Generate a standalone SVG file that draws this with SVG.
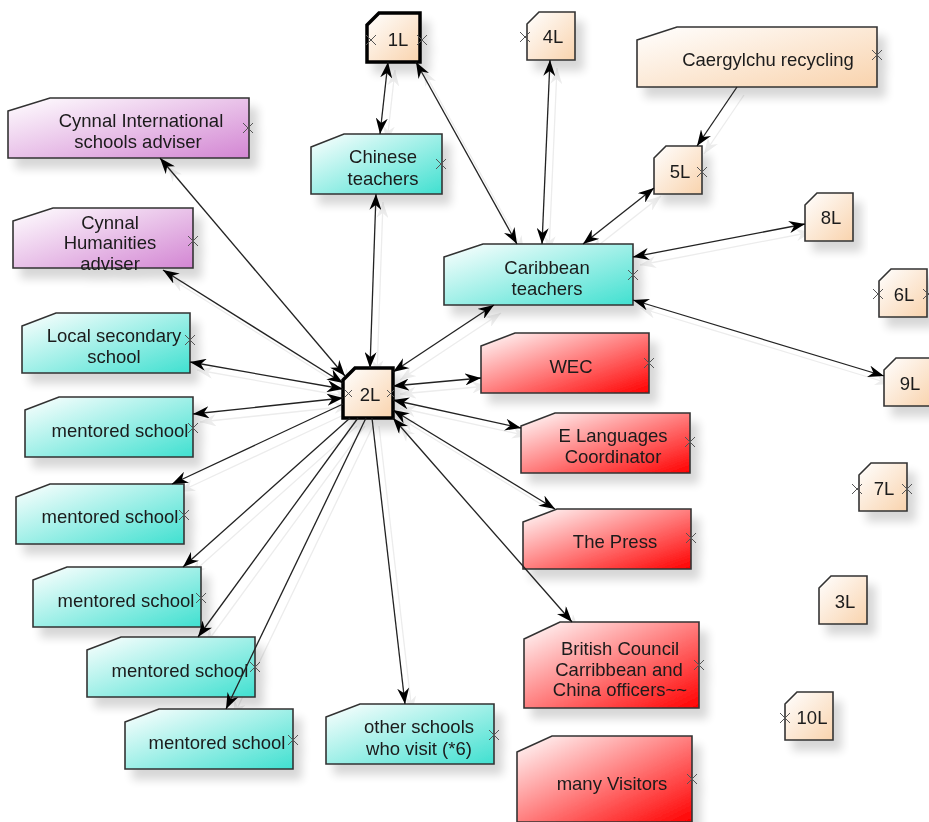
<svg xmlns="http://www.w3.org/2000/svg" width="929" height="822" viewBox="0 0 929 822">
  <defs>
    <linearGradient id="gPeach" x1="0" y1="0" x2="1" y2="1">
      <stop offset="0" stop-color="#ffffff"/>
      <stop offset="1" stop-color="#f9d3ad"/>
    </linearGradient>
    <linearGradient id="gTeal" x1="0" y1="0" x2="1" y2="1">
      <stop offset="0" stop-color="#ffffff"/>
      <stop offset="1" stop-color="#40e0d0"/>
    </linearGradient>
    <linearGradient id="gRed" x1="0" y1="0" x2="1" y2="1">
      <stop offset="0" stop-color="#ffffff"/>
      <stop offset="1" stop-color="#ff0000"/>
    </linearGradient>
    <linearGradient id="gPurple" x1="0" y1="0" x2="1" y2="1">
      <stop offset="0" stop-color="#ffffff"/>
      <stop offset="1" stop-color="#d386d3"/>
    </linearGradient>
    <filter id="shadow" x="-20%" y="-20%" width="150%" height="160%">
      <feGaussianBlur in="SourceAlpha" stdDeviation="5"/>
      <feOffset dx="8" dy="10" result="b"/>
      <feComponentTransfer><feFuncA type="linear" slope="0.16"/></feComponentTransfer>
      <feMerge><feMergeNode/><feMergeNode in="SourceGraphic"/></feMerge>
    </filter>
    <marker id="arr" viewBox="0 0 16 12" refX="16" refY="6" markerWidth="16" markerHeight="12" markerUnits="userSpaceOnUse" orient="auto-start-reverse">
      <path d="M0,0 L16,6 L0,12 L5,6 Z" fill="#000"/>
    </marker>
    <marker id="arrG" viewBox="0 0 16 12" refX="16" refY="6" markerWidth="16" markerHeight="12" markerUnits="userSpaceOnUse" orient="auto-start-reverse">
      <path d="M0,0 L16,6 L0,12 L5,6 Z" fill="#ececec"/>
    </marker>
  </defs>
  <style>
    .box { stroke: #333; stroke-width: 1.6; }
    .thick { stroke: #000; stroke-width: 3.5; }
    .peach { fill: url(#gPeach); }
    .teal { fill: url(#gTeal); }
    .red { fill: url(#gRed); }
    .purple { fill: url(#gPurple); }
    text { font-family: "Liberation Sans", Arial, sans-serif; font-size: 18.5px; fill: #1a1a1a; text-anchor: middle; }
    .x { stroke: #555; stroke-width: 1; fill: none; }
    .edge { stroke: #222; stroke-width: 1.3; fill: none; }
    .ghost { stroke: #ececec; stroke-width: 1.3; fill: none; }
  </style>

  <!-- faint echoes of the links -->
  <g id="link-echoes" transform="translate(7,8)">
    <line class="ghost" x1="388" y1="62" x2="380" y2="134" marker-start="url(#arrG)" marker-end="url(#arrG)"/>
    <line class="ghost" x1="416" y1="62" x2="517" y2="244" marker-start="url(#arrG)" marker-end="url(#arrG)"/>
    <line class="ghost" x1="550" y1="60" x2="542" y2="244" marker-start="url(#arrG)" marker-end="url(#arrG)"/>
    <line class="ghost" x1="737" y1="87" x2="697" y2="146" marker-end="url(#arrG)"/>
    <line class="ghost" x1="654" y1="188" x2="583" y2="244" marker-start="url(#arrG)" marker-end="url(#arrG)"/>
    <line class="ghost" x1="805" y1="224" x2="633" y2="257" marker-start="url(#arrG)" marker-end="url(#arrG)"/>
    <line class="ghost" x1="884" y1="376" x2="633" y2="300" marker-start="url(#arrG)" marker-end="url(#arrG)"/>
    <line class="ghost" x1="376" y1="194" x2="370" y2="368" marker-start="url(#arrG)" marker-end="url(#arrG)"/>
    <line class="ghost" x1="494" y1="305" x2="393" y2="372" marker-start="url(#arrG)" marker-end="url(#arrG)"/>
    <line class="ghost" x1="160" y1="158" x2="345" y2="376" marker-start="url(#arrG)" marker-end="url(#arrG)"/>
    <line class="ghost" x1="163" y1="270" x2="343" y2="383" marker-start="url(#arrG)" marker-end="url(#arrG)"/>
    <line class="ghost" x1="190" y1="362" x2="343" y2="389" marker-start="url(#arrG)" marker-end="url(#arrG)"/>
    <line class="ghost" x1="193" y1="414" x2="343" y2="398" marker-start="url(#arrG)" marker-end="url(#arrG)"/>
    <line class="ghost" x1="343" y1="404" x2="172" y2="484" marker-end="url(#arrG)"/>
    <line class="ghost" x1="350" y1="418" x2="183" y2="567" marker-end="url(#arrG)"/>
    <line class="ghost" x1="358" y1="418" x2="198" y2="637" marker-end="url(#arrG)"/>
    <line class="ghost" x1="366" y1="418" x2="226" y2="709" marker-end="url(#arrG)"/>
    <line class="ghost" x1="372" y1="418" x2="405" y2="704" marker-end="url(#arrG)"/>
    <line class="ghost" x1="481" y1="378" x2="393" y2="386" marker-start="url(#arrG)" marker-end="url(#arrG)"/>
    <line class="ghost" x1="393" y1="400" x2="521" y2="428" marker-start="url(#arrG)" marker-end="url(#arrG)"/>
    <line class="ghost" x1="393" y1="410" x2="555" y2="509" marker-start="url(#arrG)" marker-end="url(#arrG)"/>
    <line class="ghost" x1="393" y1="418" x2="572" y2="622" marker-start="url(#arrG)" marker-end="url(#arrG)"/>
  </g>

  <!-- nodes -->
  <g id="n1L" filter="url(#shadow)">
    <path class="thick peach" d="M367,25 L379,13 L420,13 L420,62 L367,62 Z"/>
    <text x="398" y="46">1L</text>
    <path class="x" d="M366,35 l10,10 M376,35 l-10,10 M417,35 l10,10 M427,35 l-10,10"/>
  </g>
  <g id="n4L" filter="url(#shadow)">
    <path class="box peach" d="M527,24 L539,12 L575,12 L575,60 L527,60 Z"/>
    <text x="553" y="43">4L</text>
    <path class="x" d="M520,32 l10,10 M530,32 l-10,10"/>
  </g>
  <g id="nCaergylchu" filter="url(#shadow)">
    <path class="box peach" d="M637,40 L677,27 L877,27 L877,87 L637,87 Z"/>
    <text x="768" y="66">Caergylchu recycling</text>
    <path class="x" d="M872,50 l10,10 M882,50 l-10,10"/>
  </g>
  <g id="nCynnalIntl" filter="url(#shadow)">
    <path class="box purple" d="M8,111 L50,98 L249,98 L249,158 L8,158 Z"/>
    <text x="141" y="127">Cynnal International</text>
    <text x="138" y="148">schools adviser</text>
    <path class="x" d="M243,123 l10,10 M253,123 l-10,10"/>
  </g>
  <g id="nChinese" filter="url(#shadow)">
    <path class="box teal" d="M311,147 L344,134 L442,134 L442,194 L311,194 Z"/>
    <text x="383" y="163">Chinese</text>
    <text x="383" y="185">teachers</text>
    <path class="x" d="M436,159 l10,10 M446,159 l-10,10"/>
  </g>
  <g id="n5L" filter="url(#shadow)">
    <path class="box peach" d="M654,158 L666,146 L702,146 L702,194 L654,194 Z"/>
    <text x="680" y="178">5L</text>
    <path class="x" d="M697,167 l10,10 M707,167 l-10,10"/>
  </g>
  <g id="n8L" filter="url(#shadow)">
    <path class="box peach" d="M805,205 L817,193 L853,193 L853,241 L805,241 Z"/>
    <text x="831" y="224">8L</text>
  </g>
  <g id="nCynnalHum" filter="url(#shadow)">
    <path class="box purple" d="M13,221 L53,208 L193,208 L193,268 L13,268 Z"/>
    <text x="110" y="229">Cynnal</text>
    <text x="110" y="249">Humanities</text>
    <text x="110" y="270">adviser</text>
    <path class="x" d="M188,236 l10,10 M198,236 l-10,10"/>
  </g>
  <g id="nCaribbean" filter="url(#shadow)">
    <path class="box teal" d="M444,257 L483,244 L633,244 L633,305 L444,305 Z"/>
    <text x="547" y="274">Caribbean</text>
    <text x="547" y="295">teachers</text>
    <path class="x" d="M628,270 l10,10 M638,270 l-10,10"/>
  </g>
  <g id="n6L" filter="url(#shadow)">
    <path class="box peach" d="M879,281 L891,269 L927,269 L927,317 L879,317 Z"/>
    <text x="904" y="301">6L</text>
    <path class="x" d="M873,289 l10,10 M883,289 l-10,10 M923,289 l10,10 M933,289 l-10,10"/>
  </g>
  <g id="nLocalSecondary" filter="url(#shadow)">
    <path class="box teal" d="M22,326 L56,313 L190,313 L190,373 L22,373 Z"/>
    <text x="114" y="342">Local secondary</text>
    <text x="114" y="363">school</text>
    <path class="x" d="M185,335 l10,10 M195,335 l-10,10"/>
  </g>
  <g id="nWEC" filter="url(#shadow)">
    <path class="box red" d="M481,346 L515,333 L649,333 L649,393 L481,393 Z"/>
    <text x="571" y="373">WEC</text>
    <path class="x" d="M644,358 l10,10 M654,358 l-10,10"/>
  </g>
  <g id="n2L" filter="url(#shadow)">
    <path class="thick peach" d="M343,380 L355,368 L393,368 L393,418 L343,418 Z"/>
    <text x="370" y="401">2L</text>
    <path class="x" d="M345,390 l7,7 M352,390 l-7,7 M387,390 l7,7 M394,390 l-7,7"/>
  </g>
  <g id="n9L" filter="url(#shadow)">
    <path class="box peach" d="M884,370 L896,358 L932,358 L932,406 L884,406 Z"/>
    <text x="910" y="390">9L</text>
  </g>
  <g id="nMentored1" filter="url(#shadow)">
    <path class="box teal" d="M25,410 L59,397 L193,397 L193,457 L25,457 Z"/>
    <text x="120" y="437">mentored school</text>
    <path class="x" d="M188,423 l10,10 M198,423 l-10,10"/>
  </g>
  <g id="nELanguages" filter="url(#shadow)">
    <path class="box red" d="M521,426 L555,413 L690,413 L690,473 L521,473 Z"/>
    <text x="613" y="442">E Languages</text>
    <text x="613" y="463">Coordinator</text>
    <path class="x" d="M685,437 l10,10 M695,437 l-10,10"/>
  </g>
  <g id="n7L" filter="url(#shadow)">
    <path class="box peach" d="M859,475 L871,463 L907,463 L907,511 L859,511 Z"/>
    <text x="884" y="495">7L</text>
    <path class="x" d="M852,484 l10,10 M862,484 l-10,10 M902,484 l10,10 M912,484 l-10,10"/>
  </g>
  <g id="nMentored2" filter="url(#shadow)">
    <path class="box teal" d="M16,497 L50,484 L184,484 L184,544 L16,544 Z"/>
    <text x="110" y="523">mentored school</text>
    <path class="x" d="M179,510 l10,10 M189,510 l-10,10"/>
  </g>
  <g id="nPress" filter="url(#shadow)">
    <path class="box red" d="M523,522 L557,509 L691,509 L691,569 L523,569 Z"/>
    <text x="615" y="548">The Press</text>
    <path class="x" d="M686,533 l10,10 M696,533 l-10,10"/>
  </g>
  <g id="n3L" filter="url(#shadow)">
    <path class="box peach" d="M819,588 L831,576 L867,576 L867,624 L819,624 Z"/>
    <text x="845" y="608">3L</text>
  </g>
  <g id="nMentored3" filter="url(#shadow)">
    <path class="box teal" d="M33,580 L67,567 L201,567 L201,627 L33,627 Z"/>
    <text x="126" y="607">mentored school</text>
    <path class="x" d="M196,593 l10,10 M206,593 l-10,10"/>
  </g>
  <g id="nBritishCouncil" filter="url(#shadow)">
    <path class="box red" d="M524,639 L560,622 L699,622 L699,708 L524,708 Z"/>
    <text x="620" y="655">British Council</text>
    <text x="619" y="676">Carribbean and</text>
    <text x="620" y="696">China officers~~</text>
    <path class="x" d="M694,660 l10,10 M704,660 l-10,10"/>
  </g>
  <g id="nMentored4" filter="url(#shadow)">
    <path class="box teal" d="M87,650 L121,637 L255,637 L255,697 L87,697 Z"/>
    <text x="180" y="677">mentored school</text>
    <path class="x" d="M250,662 l10,10 M260,662 l-10,10"/>
  </g>
  <g id="n10L" filter="url(#shadow)">
    <path class="box peach" d="M785,704 L797,692 L833,692 L833,740 L785,740 Z"/>
    <text x="812" y="724">10L</text>
    <path class="x" d="M780,713 l10,10 M790,713 l-10,10"/>
  </g>
  <g id="nMentored5" filter="url(#shadow)">
    <path class="box teal" d="M125,722 L159,709 L293,709 L293,769 L125,769 Z"/>
    <text x="217" y="749">mentored school</text>
    <path class="x" d="M288,735 l10,10 M298,735 l-10,10"/>
  </g>
  <g id="nOtherSchools" filter="url(#shadow)">
    <path class="box teal" d="M326,717 L360,704 L494,704 L494,764 L326,764 Z"/>
    <text x="419" y="733">other schools</text>
    <text x="419" y="755">who visit (*6)</text>
    <path class="x" d="M489,730 l10,10 M499,730 l-10,10"/>
  </g>
  <g id="nManyVisitors" filter="url(#shadow)">
    <path class="box red" d="M517,752 L552,736 L692,736 L692,822 L517,822 Z"/>
    <text x="612" y="790">many Visitors</text>
    <path class="x" d="M687,774 l10,10 M697,774 l-10,10"/>
  </g>

  <!-- links -->
  <g id="links">
    <line class="edge" x1="388" y1="62" x2="380" y2="134" marker-start="url(#arr)" marker-end="url(#arr)"/>
    <line class="edge" x1="416" y1="62" x2="517" y2="244" marker-start="url(#arr)" marker-end="url(#arr)"/>
    <line class="edge" x1="550" y1="60" x2="542" y2="244" marker-start="url(#arr)" marker-end="url(#arr)"/>
    <line class="edge" x1="737" y1="87" x2="697" y2="146" marker-end="url(#arr)"/>
    <line class="edge" x1="654" y1="188" x2="583" y2="244" marker-start="url(#arr)" marker-end="url(#arr)"/>
    <line class="edge" x1="805" y1="224" x2="633" y2="257" marker-start="url(#arr)" marker-end="url(#arr)"/>
    <line class="edge" x1="884" y1="376" x2="633" y2="300" marker-start="url(#arr)" marker-end="url(#arr)"/>
    <line class="edge" x1="376" y1="194" x2="370" y2="368" marker-start="url(#arr)" marker-end="url(#arr)"/>
    <line class="edge" x1="494" y1="305" x2="393" y2="372" marker-start="url(#arr)" marker-end="url(#arr)"/>
    <line class="edge" x1="160" y1="158" x2="345" y2="376" marker-start="url(#arr)" marker-end="url(#arr)"/>
    <line class="edge" x1="163" y1="270" x2="343" y2="383" marker-start="url(#arr)" marker-end="url(#arr)"/>
    <line class="edge" x1="190" y1="362" x2="343" y2="389" marker-start="url(#arr)" marker-end="url(#arr)"/>
    <line class="edge" x1="193" y1="414" x2="343" y2="398" marker-start="url(#arr)" marker-end="url(#arr)"/>
    <line class="edge" x1="343" y1="404" x2="172" y2="484" marker-end="url(#arr)"/>
    <line class="edge" x1="350" y1="418" x2="183" y2="567" marker-end="url(#arr)"/>
    <line class="edge" x1="358" y1="418" x2="198" y2="637" marker-end="url(#arr)"/>
    <line class="edge" x1="366" y1="418" x2="226" y2="709" marker-end="url(#arr)"/>
    <line class="edge" x1="372" y1="418" x2="405" y2="704" marker-end="url(#arr)"/>
    <line class="edge" x1="481" y1="378" x2="393" y2="386" marker-start="url(#arr)" marker-end="url(#arr)"/>
    <line class="edge" x1="393" y1="400" x2="521" y2="428" marker-start="url(#arr)" marker-end="url(#arr)"/>
    <line class="edge" x1="393" y1="410" x2="555" y2="509" marker-start="url(#arr)" marker-end="url(#arr)"/>
    <line class="edge" x1="393" y1="418" x2="572" y2="622" marker-start="url(#arr)" marker-end="url(#arr)"/>
  </g>
</svg>
